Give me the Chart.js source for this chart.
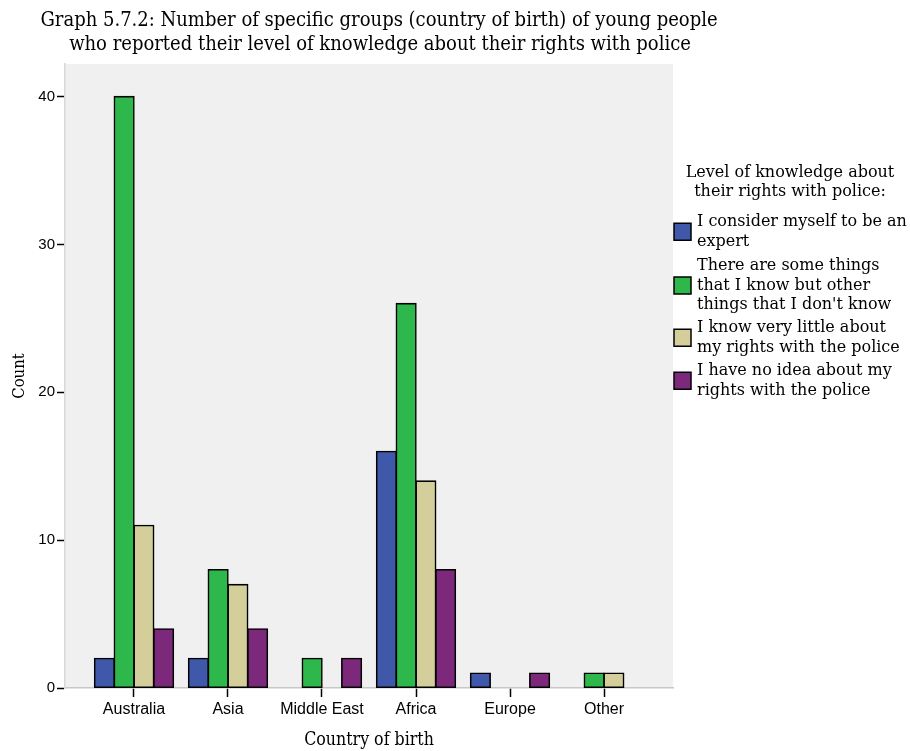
<!DOCTYPE html>
<html>
<head>
<meta charset="utf-8">
<script src="https://cdn.jsdelivr.net/npm/chart.js@4/dist/chart.umd.min.js"></script>
<style>
  html, body { margin: 0; padding: 0; background: #fff; }
  #wrap { width: 910px; height: 751px; }
</style>
</head>
<body>
<div id="wrap"><canvas id="chart" width="910" height="751"></canvas></div>
<script>
const categories = ["Australia", "Asia", "Middle East", "Africa", "Europe", "Other"];

const expert = [2, 2, 0, 16, 1, 0];
const someThings = [40, 8, 2, 26, 0, 1];
const veryLittle = [11, 7, 0, 14, 0, 1];
const noIdea = [4, 4, 2, 8, 1, 0];

const yTicks = [0, 10, 20, 30, 40];

const titleLines = [
  "Graph 5.7.2: Number of specific groups (country of birth) of young people",
  "who reported their level of knowledge about their rights with police",
];
const legendTitle = ["Level of knowledge about", "their rights with police:"];
const seriesLabels = [
  ["I consider myself to be an", "expert"],
  ["There are some things", "that I know but other", "things that I don't know"],
  ["I know very little about", "my rights with the police"],
  ["I have no idea about my", "rights with the police"],
];
const seriesColors = ["#3f58aa", "#2eb84b", "#d4cf9a", "#7c297c"];

const SERIF_C = "'DejaVu Serif Condensed', 'DejaVu Serif', serif";
const SERIF = "'DejaVu Serif', serif";
const SANS = "'Liberation Sans', Arial, sans-serif";

// grey plot background + title + legend drawn by hand
const decor = {
  id: "decor",
  beforeDraw(chart) {
    const { ctx, chartArea: a } = chart;
    ctx.save();
    ctx.fillStyle = "#f0f0f0";
    ctx.fillRect(a.left, a.top, a.right - a.left, a.bottom - a.top);
    ctx.restore();
  },
  afterDraw(chart) {
    const { ctx } = chart;
    ctx.save();
    ctx.fillStyle = "#000";
    ctx.textAlign = "center";
    ctx.textBaseline = "alphabetic";
    ctx.font = "20px " + SERIF_C;
    ctx.fillText(titleLines[0], 379, 26);
    ctx.fillText(titleLines[1], 380, 50);

    ctx.font = "16px " + SERIF;
    ctx.fillText(legendTitle[0], 790, 177);
    ctx.fillText(legendTitle[1], 790, 196);

    const lh = 19.5;
    const starts = [222, 266, 328, 371];
    ctx.textAlign = "left";
    ctx.textBaseline = "middle";
    seriesLabels.forEach((lines, i) => {
      lines.forEach((t, j) => ctx.fillText(t, 697, starts[i] + j * lh));
      const mid = starts[i] + (lines.length - 1) * lh / 2;
      ctx.fillStyle = seriesColors[i];
      ctx.fillRect(674, mid - 8.5, 17, 17);
      ctx.strokeStyle = "#000";
      ctx.lineWidth = 1.5;
      ctx.strokeRect(674, mid - 8.5, 17, 17);
      ctx.fillStyle = "#000";
    });
    ctx.restore();
  },
};

const seriesData = [expert, someThings, veryLittle, noIdea];

new Chart(document.getElementById("chart"), {
  type: "bar",
  data: {
    labels: categories.map((_, i) => i),
    datasets: seriesData.map((values, i) => ({
      label: seriesLabels[i].join(" "),
      data: values,
      backgroundColor: seriesColors[i],
      borderColor: "#000",
      borderWidth: 1.6,
      borderSkipped: false,
      inflateAmount: 0.7,
      categoryPercentage: 0.84,
      barPercentage: 1.0,
    })),
  },
  plugins: [decor],
  options: {
    responsive: false,
    animation: false,
    layout: {
      padding: { top: 64, right: 237, bottom: 0, left: 0 },
    },
    plugins: {
      legend: { display: false },
      title: { display: false },
      tooltip: { enabled: false },
    },
    scales: {
      x: {
        type: "linear",
        offset: false,
        min: -0.734,
        max: 5.734,
        afterBuildTicks: (scale) => {
          scale.ticks = categories.map((_, i) => ({ value: i }));
        },
        afterFit: (scale) => {
          scale.height = 63;
        },
        grid: {
          offset: false,
          drawOnChartArea: false,
          drawTicks: true,
          tickLength: 9,
          tickColor: "#000",
          tickWidth: 1.5,
        },
        border: { display: true, color: "#c8c8c8", width: 1.5 },
        ticks: {
          autoSkip: false,
          maxRotation: 0,
          padding: 3,
          color: "#000",
          font: { family: SANS, size: 16 },
          callback: (v) => categories[v],
        },
        title: {
          display: true,
          text: "Country of birth",
          color: "#000",
          font: { family: SERIF_C, size: 17.6 },
          padding: { top: 0, bottom: 0 },
        },
      },
      y: {
        min: 0,
        max: 42.2,
        afterBuildTicks: (scale) => {
          scale.ticks = yTicks.map((v) => ({ value: v }));
        },
        afterFit: (scale) => {
          scale.width = 65;
        },
        grid: {
          drawOnChartArea: false,
          drawTicks: true,
          tickLength: 8,
          tickColor: "#000",
          tickWidth: 1.5,
        },
        border: { display: true, color: "#d8d8d8", width: 1.5 },
        ticks: {
          padding: 2,
          color: "#000",
          font: { family: SANS, size: 15 },
        },
        title: {
          display: true,
          text: "Count",
          color: "#000",
          font: { family: SERIF_C, size: 16.5 },
          padding: { top: 10, bottom: 0 },
        },
      },
    },
  },
});
</script>
</body>
</html>
